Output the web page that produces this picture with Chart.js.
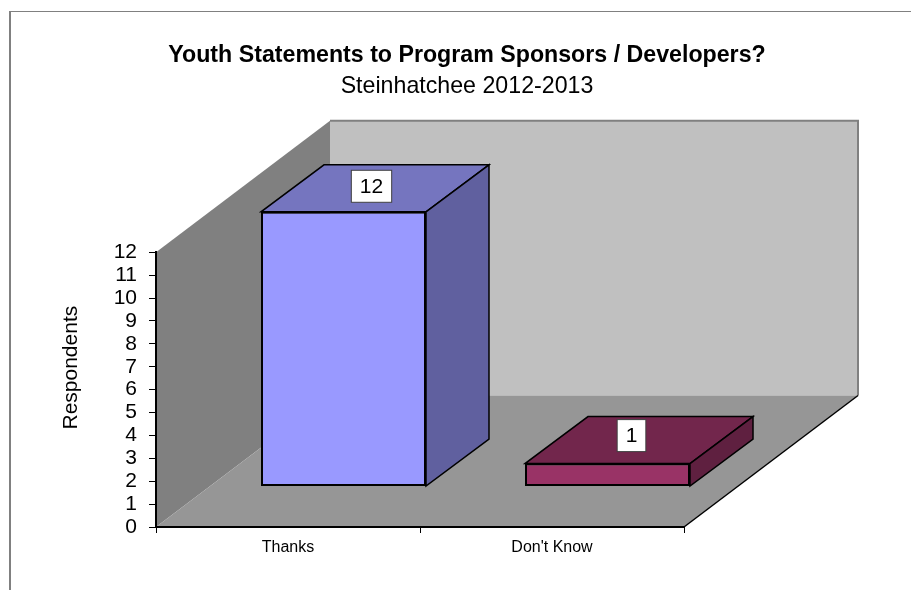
<!DOCTYPE html>
<html>
<head>
<meta charset="utf-8">
<script src="https://cdn.jsdelivr.net/npm/chart.js@4"></script>
<style>
html,body{margin:0;padding:0;background:#fff;overflow:hidden}
#wrap{position:relative;width:911px;height:590px}
#frame{position:absolute;left:9px;top:11px;right:0;bottom:0;border-top:1px solid #808080;border-left:2px solid #808080}
canvas{position:absolute;left:0;top:0}
</style>
</head>
<body>
<div id="wrap"><div id="frame"></div><canvas id="c" width="911" height="590"></canvas></div>
<script>
const categories = ["Thanks", "Don't Know"];
const respondents = [12, 1];
const frontColors = ["#9999ff", "#993366"];
const topColors = ["#7575bf", "#72264c"];
const sideColors = ["#60609f", "#5f2040"];
const chartTitle = "Youth Statements to Program Sponsors / Developers?";
const chartSubtitle = "Steinhatchee 2012-2013";
const axisTitle = "Respondents";
const FONT = "'Liberation Sans', Arial, sans-serif";

const WALL_DX = 174, WALL_DY = -131.5;   // depth of the 3D box
const BAR_DX = 63, BAR_DY = -47;         // depth of a bar
const SHIFT_X = 55.5, SHIFT_Y = -40.5;   // offset of the bar row into the box
const LABEL_NUDGE_X = [28, 24], LABEL_NUDGE_Y = [-25.5, -28];

function poly(ctx, pts, fill, stroke, lw) {
  ctx.beginPath();
  pts.forEach((p, i) => i ? ctx.lineTo(p[0], p[1]) : ctx.moveTo(p[0], p[1]));
  ctx.closePath();
  ctx.fillStyle = fill; ctx.fill();
  if (stroke) { ctx.strokeStyle = stroke; ctx.lineWidth = lw || 1; ctx.lineJoin = 'miter'; ctx.stroke(); }
}

const box3d = {
  id: 'box3d',
  afterLayout(chart) {
    const s = chart.scales.y;
    if (s.$moved) return;
    s.$moved = true;
    const orig = s.drawTitle;
    s.drawTitle = function () {
      chart.ctx.save();
      chart.ctx.translate(0, -22);
      orig.call(this);
      chart.ctx.restore();
    };
  },
  beforeDraw(chart) {
    const { ctx, chartArea: a } = chart;
    const l = a.left, r = a.right, t = a.top, b = a.bottom;
    ctx.save();
    poly(ctx, [[l + WALL_DX, t + WALL_DY], [r + WALL_DX, t + WALL_DY], [r + WALL_DX, b + WALL_DY], [l + WALL_DX, b + WALL_DY]], '#c0c0c0');
    ctx.strokeStyle = '#808080'; ctx.lineWidth = 2;
    ctx.beginPath();
    ctx.moveTo(l + WALL_DX, t + WALL_DY); ctx.lineTo(r + WALL_DX, t + WALL_DY); ctx.lineTo(r + WALL_DX, b + WALL_DY);
    ctx.stroke();
    poly(ctx, [[l, t], [l + WALL_DX, t + WALL_DY], [l + WALL_DX, b + WALL_DY], [l, b]], '#808080');
    poly(ctx, [[l, b], [r, b], [r + WALL_DX, b + WALL_DY], [l + WALL_DX, b + WALL_DY]], '#969696');
    ctx.strokeStyle = '#000'; ctx.lineWidth = 1.5;
    ctx.beginPath(); ctx.moveTo(r, b); ctx.lineTo(r + WALL_DX, b + WALL_DY); ctx.stroke();
    ctx.restore();
  },
  beforeDatasetDraw(chart) {
    const { ctx } = chart;
    const bars = chart.getDatasetMeta(0).data;
    ctx.save();
    ctx.translate(SHIFT_X, SHIFT_Y);
    bars.forEach((bar, i) => {
      const L = bar.x - bar.width / 2, R = bar.x + bar.width / 2, T = bar.y, B = bar.base;
      poly(ctx, [[L, T], [R, T], [R + BAR_DX, T + BAR_DY], [L + BAR_DX, T + BAR_DY]], topColors[i], '#000', 1.5);
      poly(ctx, [[R, T], [R + BAR_DX, T + BAR_DY], [R + BAR_DX, B + BAR_DY], [R, B]], sideColors[i], '#000', 1.5);
    });
  },
  afterDatasetDraw(chart) {
    const { ctx } = chart;
    ctx.restore();
    const bars = chart.getDatasetMeta(0).data;
    ctx.save();
    ctx.font = "21px " + FONT;
    ctx.textAlign = 'center'; ctx.textBaseline = 'middle';
    bars.forEach((bar, i) => {
      const txt = String(respondents[i]);
      const cx = bar.x + SHIFT_X + LABEL_NUDGE_X[i];
      const cy = bar.y + SHIFT_Y + LABEL_NUDGE_Y[i];
      const w = ctx.measureText(txt).width + 17, h = 32;
      ctx.fillStyle = '#fff'; ctx.strokeStyle = '#404040'; ctx.lineWidth = 1;
      ctx.fillRect(cx - w / 2, cy - h / 2, w, h);
      ctx.strokeRect(cx - w / 2, cy - h / 2, w, h);
      ctx.fillStyle = '#000';
      ctx.fillText(txt, cx, cy + 1);
    });
    ctx.restore();
  }
};

new Chart(document.getElementById('c'), {
  type: 'bar',
  data: {
    labels: categories,
    datasets: [{
      label: axisTitle,
      data: respondents,
      backgroundColor: frontColors,
      borderColor: '#000',
      borderWidth: 2,
      borderSkipped: false,
      barPercentage: 0.625,
      categoryPercentage: 1,
      clip: false
    }]
  },
  options: {
    responsive: false,
    animation: false,
    layout: { padding: { left: 23, right: 0, top: 0, bottom: 0 } },
    plugins: {
      legend: { display: false },
      tooltip: { enabled: false },
      title: {
        display: true, text: chartTitle, color: '#000',
        font: { family: FONT, size: 23.2, weight: 'bold', lineHeight: 1.2 },
        padding: { top: 42, bottom: 2.6 }
      },
      subtitle: {
        display: true, text: chartSubtitle, color: '#000',
        font: { family: FONT, size: 23.2, weight: 'normal', lineHeight: 1.2 },
        padding: { top: 0, bottom: 152 }
      }
    },
    scales: {
      x: {
        offset: true,
        grid: { display: true, drawOnChartArea: false, drawTicks: true, tickLength: 6, color: '#000', offset: true },
        border: { display: true, color: '#000', width: 2 },
        ticks: { color: '#000', font: { family: FONT, size: 16 }, maxRotation: 0, padding: 5 },
        afterFit(s) { s.height = 63; }
      },
      y: {
        min: 0, max: 12,
        grid: { display: true, drawOnChartArea: false, drawTicks: true, tickLength: 7, color: '#000' },
        border: { display: true, color: '#000', width: 2 },
        ticks: { stepSize: 1, autoSkip: false, color: '#000', font: { family: FONT, size: 21 }, padding: 12 },
        title: { display: true, text: axisTitle, color: '#000', font: { family: FONT, size: 21 }, padding: { top: 36, bottom: 0 } },
        afterFit(s) { s.width = 133; }
      },
      depth: {
        axis: 'y', type: 'linear', position: 'right', display: true,
        grid: { display: false }, border: { display: false },
        ticks: { display: false },
        afterFit(s) { s.width = 227; }
      }
    }
  },
  plugins: [box3d]
});
</script>
</body>
</html>
